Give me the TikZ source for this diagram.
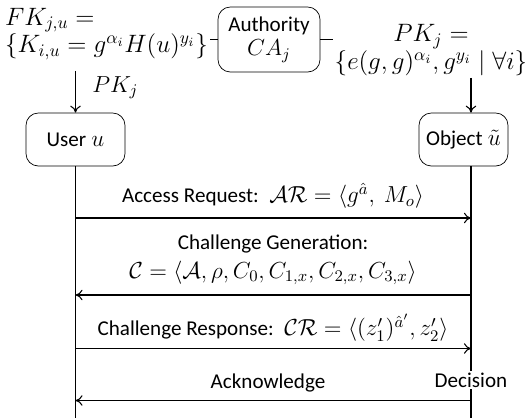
\RequirePackage{fix-cm}
\documentclass[tikz,border=0pt]{standalone}
\usepackage{amsmath,amssymb}
\usepackage{fontspec}
\setmainfont{Carlito}
\usepackage{tikz}
\usetikzlibrary{arrows.meta,positioning,calc}
\newcommand{\lbltxt}[1]{{\fontsize{12}{14}\selectfont #1}}

\begin{document}
\begin{tikzpicture}[
    font=\fontsize{13.2}{15}\selectfont,
    box/.style={draw, rounded corners=7pt, align=center, inner sep=2pt},
    msg/.style={-{To[length=4pt,width=6pt]}, semithick},
    life/.style={semithick}
]
\useasboundingbox (0,0) rectangle (10.5,-8.36);

% Authority and keys
\node[box, minimum width=2.04cm, minimum height=1.30cm] (ca) at (5.38,-0.79) {\lbltxt{Authority}\\[-1pt]$CA_j$};
\node[align=left, anchor=west, inner sep=1pt, font=\fontsize{14.3}{14}\selectfont] (fk) at (0.06,-0.68)
    {$FK_{j,u} =$\\$\{K_{i,u} = g^{\alpha_i}H(u)^{y_i}\}$};
\node[align=center, inner sep=1pt, font=\fontsize{14.3}{16}\selectfont] (pk) at (8.62,-1.00)
    {$PK_j =$\\$\{e(g,g)^{\alpha_i}, g^{y_i} \mid \forall i\}$};
\draw[semithick] (ca.west) -- (fk.east |- ca.west);
\draw[semithick] (ca.east) -- (pk.west |- ca.east);

% Parties
\node[box, minimum width=1.98cm, minimum height=1.06cm] (user) at (1.51,-2.79) {\lbltxt{User} $u$};
\node[box, minimum width=1.78cm, minimum height=1.06cm] (obj) at (9.27,-2.79) {\lbltxt{Object} $\tilde{u}$};
\coordinate (objline) at (9.42,-2.79);
\coordinate (bottom) at (0,-8.36);

\draw[msg, shorten <=5pt] (user.north |- fk.south) -- (user.north)
    node[midway, right=6pt] {$PK_j$};
\draw[msg] (pk.south -| objline) -- (objline |- obj.north);

% Lifelines
\draw[life] (user.south) -- (user.south |- bottom);
\draw[life] (objline |- obj.south) -- (objline |- bottom);

% Messages
\coordinate (m1) at (0,-4.36);
\coordinate (m2) at (0,-5.90);
\coordinate (m3) at (0,-6.97);
\coordinate (m4) at (0,-8.01);
\draw[msg] (user.south |- m1) -- (objline |- m1);
\draw[msg] (objline |- m2) -- (user.south |- m2);
\draw[msg] (user.south |- m3) -- (objline |- m3);
\draw[msg] (objline |- m4) -- (user.south |- m4);

\node (ar) at (5.46,-3.92) {\lbltxt{Access Request:}\ \ $\mathcal{AR} = \langle g^{\hat{a}},\ M_o\rangle$};
\node[align=center] (cg) at (5.46,-5.20) {\lbltxt{Challenge Generation:}\\[1pt]
    $\mathcal{C} = \langle \mathcal{A}, \rho, C_0, C_{1,x}, C_{2,x}, C_{3,x}\rangle$};
\node (cr) at (5.46,-6.56) {\lbltxt{Challenge Response:}\ \ $\mathcal{CR} = \langle (z_1')^{\hat{a}'}, z_2'\rangle$};
\node (ack) at (5.36,-7.66) {\lbltxt{Acknowledge}};
\node[fill=white, inner sep=1pt] (dec) at (9.42,-7.60) {\lbltxt{Decision}};
\end{tikzpicture}
\end{document}
